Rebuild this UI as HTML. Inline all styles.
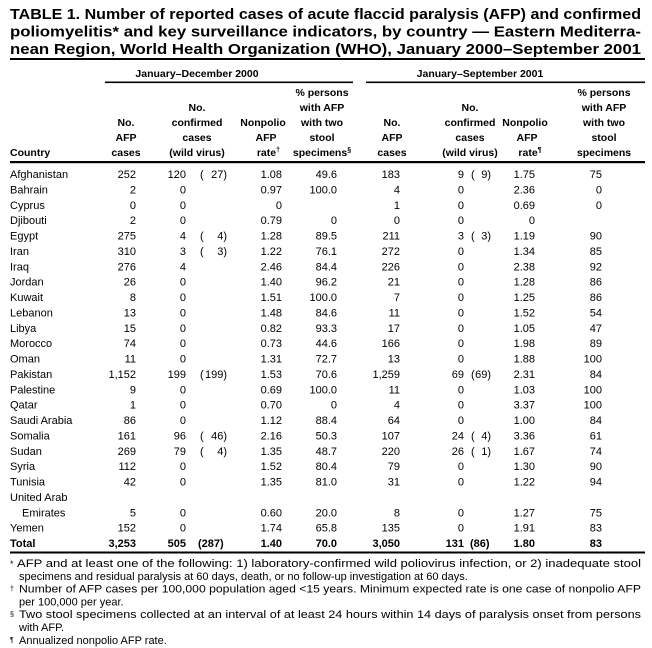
<!DOCTYPE html>
<html><head><meta charset="utf-8"><style>
html,body{margin:0;padding:0;background:#fff;}
svg{display:block;font-family:"Liberation Sans",Arial,sans-serif;}
.t{font-weight:bold;font-size:14.5px;}
.h{font-weight:bold;font-size:10.5px;}
.d{font-size:11px;}
.b{font-weight:bold;}
.f{font-size:11px;}
.e{text-anchor:end;}
.m{text-anchor:middle;}
</style></head><body>
<svg width="652" height="648" viewBox="0 0 652 648" xmlns="http://www.w3.org/2000/svg">
<rect width="652" height="648" fill="#fff"/>
<text class="t" x="10" y="19" textLength="631" lengthAdjust="spacingAndGlyphs">TABLE 1.  Number of reported cases of acute flaccid paralysis (AFP) and confirmed</text>
<text class="t" x="10" y="36.5" textLength="631" lengthAdjust="spacingAndGlyphs">poliomyelitis* and key surveillance indicators, by country — Eastern Mediterra-</text>
<text class="t" x="10" y="54" textLength="631" lengthAdjust="spacingAndGlyphs">nean Region, World Health Organization (WHO), January 2000–September 2001</text>
<rect x="10" y="58" width="635" height="2" fill="#000"/>
<text class="h m" x="197" y="77">January–December 2000</text>
<text class="h m" x="480" y="77">January–September 2001</text>
<rect x="105" y="81.5" width="248" height="1.6" fill="#000"/>
<rect x="366" y="81.5" width="279" height="1.6" fill="#000"/>
<g class="h">
<text x="10" y="156">Country</text>
<text class="m" x="126" y="126">No.</text><text class="m" x="126" y="141">AFP</text><text class="m" x="126" y="156">cases</text>
<text class="m" x="197" y="111">No.</text><text class="m" x="197" y="126">confirmed</text><text class="m" x="197" y="141">cases</text><text class="m" x="197" y="156">(wild virus)</text>
<text class="m" x="263" y="126">Nonpolio</text><text class="m" x="266" y="141">AFP</text><text class="e" x="280" y="156">rate<tspan font-size="7" dy="-4">†</tspan></text>
<text class="m" x="322" y="96">% persons</text><text class="m" x="322" y="111">with AFP</text><text class="m" x="322" y="126">with two</text><text class="m" x="322" y="141">stool</text><text class="m" x="322" y="156">specimens<tspan font-size="7" dy="-4">§</tspan></text>
<text class="m" x="392" y="126">No.</text><text class="m" x="392" y="141">AFP</text><text class="m" x="392" y="156">cases</text>
<text class="m" x="470" y="111">No.</text><text class="m" x="470" y="126">confirmed</text><text class="m" x="470" y="141">cases</text><text class="m" x="470" y="156">(wild virus)</text>
<text class="m" x="525" y="126">Nonpolio</text><text class="m" x="527" y="141">AFP</text><text class="m" x="530" y="156">rate<tspan font-size="7" dy="-4">¶</tspan></text>
<text class="m" x="604" y="96">% persons</text><text class="m" x="604" y="111">with AFP</text><text class="m" x="604" y="126">with two</text><text class="m" x="604" y="141">stool</text><text class="m" x="604" y="156">specimens</text>
</g>
<rect x="10" y="161" width="635" height="2.2" fill="#000"/>
<g class="d">
<text x="10" y="178">Afghanistan</text><text class="e" x="136" y="178">252</text><text class="e" x="186" y="178">120</text><text x="200" y="178">(</text><text class="e" x="227" y="178">27)</text><text class="e" x="282" y="178">1.08</text><text class="e" x="337" y="178">49.6</text><text class="e" x="400" y="178">183</text><text class="e" x="464" y="178">9</text><text x="471" y="178">(</text><text class="e" x="491" y="178">9)</text><text class="e" x="535" y="178">1.75</text><text class="e" x="602" y="178">75</text>
<text x="10" y="193.4">Bahrain</text><text class="e" x="136" y="193.4">2</text><text class="e" x="186" y="193.4">0</text><text class="e" x="282" y="193.4">0.97</text><text class="e" x="337" y="193.4">100.0</text><text class="e" x="400" y="193.4">4</text><text class="e" x="464" y="193.4">0</text><text class="e" x="535" y="193.4">2.36</text><text class="e" x="602" y="193.4">0</text>
<text x="10" y="208.8">Cyprus</text><text class="e" x="136" y="208.8">0</text><text class="e" x="186" y="208.8">0</text><text class="e" x="282" y="208.8">0</text><text class="e" x="400" y="208.8">1</text><text class="e" x="464" y="208.8">0</text><text class="e" x="535" y="208.8">0.69</text><text class="e" x="602" y="208.8">0</text>
<text x="10" y="224.1">Djibouti</text><text class="e" x="136" y="224.1">2</text><text class="e" x="186" y="224.1">0</text><text class="e" x="282" y="224.1">0.79</text><text class="e" x="337" y="224.1">0</text><text class="e" x="400" y="224.1">0</text><text class="e" x="464" y="224.1">0</text><text class="e" x="535" y="224.1">0</text>
<text x="10" y="239.5">Egypt</text><text class="e" x="136" y="239.5">275</text><text class="e" x="186" y="239.5">4</text><text x="200" y="239.5">(</text><text class="e" x="227" y="239.5">4)</text><text class="e" x="282" y="239.5">1.28</text><text class="e" x="337" y="239.5">89.5</text><text class="e" x="400" y="239.5">211</text><text class="e" x="464" y="239.5">3</text><text x="471" y="239.5">(</text><text class="e" x="491" y="239.5">3)</text><text class="e" x="535" y="239.5">1.19</text><text class="e" x="602" y="239.5">90</text>
<text x="10" y="254.9">Iran</text><text class="e" x="136" y="254.9">310</text><text class="e" x="186" y="254.9">3</text><text x="200" y="254.9">(</text><text class="e" x="227" y="254.9">3)</text><text class="e" x="282" y="254.9">1.22</text><text class="e" x="337" y="254.9">76.1</text><text class="e" x="400" y="254.9">272</text><text class="e" x="464" y="254.9">0</text><text class="e" x="535" y="254.9">1.34</text><text class="e" x="602" y="254.9">85</text>
<text x="10" y="270.3">Iraq</text><text class="e" x="136" y="270.3">276</text><text class="e" x="186" y="270.3">4</text><text class="e" x="282" y="270.3">2.46</text><text class="e" x="337" y="270.3">84.4</text><text class="e" x="400" y="270.3">226</text><text class="e" x="464" y="270.3">0</text><text class="e" x="535" y="270.3">2.38</text><text class="e" x="602" y="270.3">92</text>
<text x="10" y="285.6">Jordan</text><text class="e" x="136" y="285.6">26</text><text class="e" x="186" y="285.6">0</text><text class="e" x="282" y="285.6">1.40</text><text class="e" x="337" y="285.6">96.2</text><text class="e" x="400" y="285.6">21</text><text class="e" x="464" y="285.6">0</text><text class="e" x="535" y="285.6">1.28</text><text class="e" x="602" y="285.6">86</text>
<text x="10" y="301">Kuwait</text><text class="e" x="136" y="301">8</text><text class="e" x="186" y="301">0</text><text class="e" x="282" y="301">1.51</text><text class="e" x="337" y="301">100.0</text><text class="e" x="400" y="301">7</text><text class="e" x="464" y="301">0</text><text class="e" x="535" y="301">1.25</text><text class="e" x="602" y="301">86</text>
<text x="10" y="316.4">Lebanon</text><text class="e" x="136" y="316.4">13</text><text class="e" x="186" y="316.4">0</text><text class="e" x="282" y="316.4">1.48</text><text class="e" x="337" y="316.4">84.6</text><text class="e" x="400" y="316.4">11</text><text class="e" x="464" y="316.4">0</text><text class="e" x="535" y="316.4">1.52</text><text class="e" x="602" y="316.4">54</text>
<text x="10" y="331.8">Libya</text><text class="e" x="136" y="331.8">15</text><text class="e" x="186" y="331.8">0</text><text class="e" x="282" y="331.8">0.82</text><text class="e" x="337" y="331.8">93.3</text><text class="e" x="400" y="331.8">17</text><text class="e" x="464" y="331.8">0</text><text class="e" x="535" y="331.8">1.05</text><text class="e" x="602" y="331.8">47</text>
<text x="10" y="347.1">Morocco</text><text class="e" x="136" y="347.1">74</text><text class="e" x="186" y="347.1">0</text><text class="e" x="282" y="347.1">0.73</text><text class="e" x="337" y="347.1">44.6</text><text class="e" x="400" y="347.1">166</text><text class="e" x="464" y="347.1">0</text><text class="e" x="535" y="347.1">1.98</text><text class="e" x="602" y="347.1">89</text>
<text x="10" y="362.5">Oman</text><text class="e" x="136" y="362.5">11</text><text class="e" x="186" y="362.5">0</text><text class="e" x="282" y="362.5">1.31</text><text class="e" x="337" y="362.5">72.7</text><text class="e" x="400" y="362.5">13</text><text class="e" x="464" y="362.5">0</text><text class="e" x="535" y="362.5">1.88</text><text class="e" x="602" y="362.5">100</text>
<text x="10" y="377.9">Pakistan</text><text class="e" x="136" y="377.9">1,152</text><text class="e" x="186" y="377.9">199</text><text x="200" y="377.9">(</text><text class="e" x="227" y="377.9">199)</text><text class="e" x="282" y="377.9">1.53</text><text class="e" x="337" y="377.9">70.6</text><text class="e" x="400" y="377.9">1,259</text><text class="e" x="464" y="377.9">69</text><text x="471" y="377.9">(</text><text class="e" x="491" y="377.9">69)</text><text class="e" x="535" y="377.9">2.31</text><text class="e" x="602" y="377.9">84</text>
<text x="10" y="393.3">Palestine</text><text class="e" x="136" y="393.3">9</text><text class="e" x="186" y="393.3">0</text><text class="e" x="282" y="393.3">0.69</text><text class="e" x="337" y="393.3">100.0</text><text class="e" x="400" y="393.3">11</text><text class="e" x="464" y="393.3">0</text><text class="e" x="535" y="393.3">1.03</text><text class="e" x="602" y="393.3">100</text>
<text x="10" y="408.6">Qatar</text><text class="e" x="136" y="408.6">1</text><text class="e" x="186" y="408.6">0</text><text class="e" x="282" y="408.6">0.70</text><text class="e" x="337" y="408.6">0</text><text class="e" x="400" y="408.6">4</text><text class="e" x="464" y="408.6">0</text><text class="e" x="535" y="408.6">3.37</text><text class="e" x="602" y="408.6">100</text>
<text x="10" y="424">Saudi Arabia</text><text class="e" x="136" y="424">86</text><text class="e" x="186" y="424">0</text><text class="e" x="282" y="424">1.12</text><text class="e" x="337" y="424">88.4</text><text class="e" x="400" y="424">64</text><text class="e" x="464" y="424">0</text><text class="e" x="535" y="424">1.00</text><text class="e" x="602" y="424">84</text>
<text x="10" y="439.4">Somalia</text><text class="e" x="136" y="439.4">161</text><text class="e" x="186" y="439.4">96</text><text x="200" y="439.4">(</text><text class="e" x="227" y="439.4">46)</text><text class="e" x="282" y="439.4">2.16</text><text class="e" x="337" y="439.4">50.3</text><text class="e" x="400" y="439.4">107</text><text class="e" x="464" y="439.4">24</text><text x="471" y="439.4">(</text><text class="e" x="491" y="439.4">4)</text><text class="e" x="535" y="439.4">3.36</text><text class="e" x="602" y="439.4">61</text>
<text x="10" y="454.8">Sudan</text><text class="e" x="136" y="454.8">269</text><text class="e" x="186" y="454.8">79</text><text x="200" y="454.8">(</text><text class="e" x="227" y="454.8">4)</text><text class="e" x="282" y="454.8">1.35</text><text class="e" x="337" y="454.8">48.7</text><text class="e" x="400" y="454.8">220</text><text class="e" x="464" y="454.8">26</text><text x="471" y="454.8">(</text><text class="e" x="491" y="454.8">1)</text><text class="e" x="535" y="454.8">1.67</text><text class="e" x="602" y="454.8">74</text>
<text x="10" y="470.1">Syria</text><text class="e" x="136" y="470.1">112</text><text class="e" x="186" y="470.1">0</text><text class="e" x="282" y="470.1">1.52</text><text class="e" x="337" y="470.1">80.4</text><text class="e" x="400" y="470.1">79</text><text class="e" x="464" y="470.1">0</text><text class="e" x="535" y="470.1">1.30</text><text class="e" x="602" y="470.1">90</text>
<text x="10" y="485.5">Tunisia</text><text class="e" x="136" y="485.5">42</text><text class="e" x="186" y="485.5">0</text><text class="e" x="282" y="485.5">1.35</text><text class="e" x="337" y="485.5">81.0</text><text class="e" x="400" y="485.5">31</text><text class="e" x="464" y="485.5">0</text><text class="e" x="535" y="485.5">1.22</text><text class="e" x="602" y="485.5">94</text>
<text x="10" y="500.9">United Arab</text>
<text x="22" y="516.3">Emirates</text><text class="e" x="136" y="516.3">5</text><text class="e" x="186" y="516.3">0</text><text class="e" x="282" y="516.3">0.60</text><text class="e" x="337" y="516.3">20.0</text><text class="e" x="400" y="516.3">8</text><text class="e" x="464" y="516.3">0</text><text class="e" x="535" y="516.3">1.27</text><text class="e" x="602" y="516.3">75</text>
<text x="10" y="531.6">Yemen</text><text class="e" x="136" y="531.6">152</text><text class="e" x="186" y="531.6">0</text><text class="e" x="282" y="531.6">1.74</text><text class="e" x="337" y="531.6">65.8</text><text class="e" x="400" y="531.6">135</text><text class="e" x="464" y="531.6">0</text><text class="e" x="535" y="531.6">1.91</text><text class="e" x="602" y="531.6">83</text>
<g class="b">
<text x="10" y="547">Total</text><text class="e" x="136" y="547">3,253</text><text class="e" x="186" y="547">505</text><text x="198" y="547">(287)</text><text class="e" x="282" y="547">1.40</text><text class="e" x="337" y="547">70.0</text><text class="e" x="400" y="547">3,050</text><text class="e" x="464" y="547">131</text><text x="470" y="547">(86)</text><text class="e" x="535" y="547">1.80</text><text class="e" x="602" y="547">83</text>
</g>
</g>
<rect x="10" y="551.5" width="635" height="2" fill="#000"/>
<g class="f">
<text x="10" y="567"><tspan font-size="9">*</tspan></text>
<text x="17" y="567" textLength="624" lengthAdjust="spacingAndGlyphs">AFP and at least one of the following: 1) laboratory-confirmed wild poliovirus infection, or 2) inadequate stool</text>
<text x="19" y="579.8">specimens and residual paralysis at 60 days, death, or no follow-up investigation at 60 days.</text>
<text x="10" y="591"><tspan font-size="7">†</tspan></text>
<text x="19" y="592.6" textLength="622" lengthAdjust="spacingAndGlyphs">Number of AFP cases per 100,000 population aged &lt;15 years.  Minimum expected rate is one case of nonpolio AFP</text>
<text x="19" y="605.4">per 100,000 per year.</text>
<text x="10" y="616.5"><tspan font-size="7">§</tspan></text>
<text x="19" y="618.2" textLength="622" lengthAdjust="spacingAndGlyphs">Two stool specimens collected at an interval of at least 24 hours within 14 days of paralysis onset from persons</text>
<text x="19" y="631">with AFP.</text>
<text x="10" y="642"><tspan font-size="7">¶</tspan></text>
<text x="19" y="643.8">Annualized nonpolio AFP rate.</text>
</g>
</svg>
</body></html>
